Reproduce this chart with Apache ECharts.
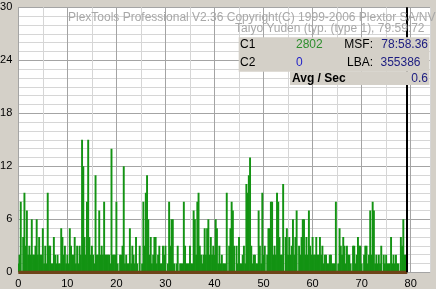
<!DOCTYPE html>
<html><head><meta charset="utf-8">
<script src="https://cdn.jsdelivr.net/npm/echarts@6/dist/echarts.min.js"></script>
<style>html,body{margin:0;padding:0;background:#d4d0c8;overflow:hidden}#c{width:436px;height:289px}</style>
</head><body><div id="c"></div>
<script>
// C1 errors per sample, one sample every 0.25 minute, starting at 0:00
const sampleStep = 0.25;
const c1 = [
 1,2,8,0, 4,9,3,7, 2,3,2,6, 2,2,3,6, 2,4,2,2, 5,1,3,1, 9,3,3,1, 1,4,2,1, 2,1,1,5, 4,2,3,1,
 2,1,5,3, 2,2,4,1, 3,1,3,2, 15,12,4,2, 8,15,4,2, 3,2,1,11, 2,2,7,2, 3,2,8,2, 2,2,2,1, 14,2,2,2,
 8,1,0,2, 2,3,12,1, 2,1,1,5, 1,3,2,1, 4,1,0,3, 0,1,8,3, 9,11,6,2, 4,1,2,4, 4,1,2,3, 1,1,3,2,
 3,0,1,8, 3,6,6,1, 0,1,3,0, 1,1,1,8, 3,1,1,1, 3,1,1,7, 6,2,8,9, 3,2,1,2, 5,2,5,6, 2,4,2,3,
 2,6,5,1, 3,1,2,1, 1,1,9,0, 3,5,8,7, 3,0,3,1, 4,1,1,2, 3,1,10,9, 11,13,3,1, 2,2,1,1, 7,3,1,9,
 2,3,0,2, 5,5,8,8, 2,3,2,9, 8,4,2,2, 10,0,4,5, 2,4,2,3, 6,2,4,7, 0,3,2,4, 6,6,2,4, 2,7,3,2,
 4,2,2,4, 2,2,4,2, 3,1,2,2, 1,1,2,2, 1,1,1,8, 0,1,5,3, 2,4,3,1, 3,2,2,1, 0,3,3,1, 2,4,3,3,
 1,0,2,3, 3,1,2,7, 2,8,7,1, 2,1,2,1, 3,0,2,1, 2,1,1,1, 4,1,2,1, 2,1,1,0, 4,3,6,2, 2,2
];
// C2 errors: zero over the whole disc
const c2Minutes = [0, 79.3];
const c2Values = [0, 0];
const scanEnd = 79.3;           // position of the black end-of-scan marker (minutes)
const xTickLabels = [0,10,20,30,40,50,60,70,80];
const yTickLabels = [0,6,12,18,24,30];

const c1Data = c1.map((v, i) => [i * sampleStep, v]);
const c2Data = c2Values.map((v, i) => [c2Minutes[i], v]);

const MAJ = '#a4a4a4', MIN = '#d6d6d6';
const chart = echarts.init(document.getElementById('c'), null, {renderer: 'canvas'});
const lblFont = {color: '#000', fontFamily: 'Liberation Sans, Arial, sans-serif', fontSize: 11};
const F = '12px Liberation Sans, Arial, sans-serif';
chart.setOption({
  animation: false,
  backgroundColor: '#d4d0c8',
  grid: {left: 18.3, right: 5.7, top: 7.3, bottom: 16.7, backgroundColor: '#ffffff', show: true, borderWidth: 0, containLabel: false, outerBoundsMode: 'none'},
  xAxis: {
    type: 'value', min: 0, max: 84, interval: 5,
    axisLine: {show: false}, axisTick: {show: false},
    splitLine: {show: true, lineStyle: {color: [MAJ, MIN], width: 1}},
    axisLabel: Object.assign({margin: 6, formatter: v => xTickLabels.includes(v) ? String(v) : ''}, lblFont)
  },
  yAxis: {
    type: 'value', min: 0, max: 30, interval: 1,
    axisLine: {show: false}, axisTick: {show: false},
    splitLine: {show: true, lineStyle: {color: [MAJ, MIN, MIN, MIN, MIN, MIN], width: 1}},
    axisLabel: Object.assign({margin: 6, formatter: v => yTickLabels.includes(v) ? String(v) : ''}, lblFont)
  },
  series: [
    {
      type: 'custom', data: c1Data, clip: true,
      encode: {x: 0, y: 1},
      renderItem: function (params, api) {
        const x = api.value(0), v = api.value(1);
        if (!v) return null;
        const p0 = api.coord([x - sampleStep / 2, v]);
        const p1 = api.coord([x + sampleStep / 2, 0]);
        return {
          type: 'rect',
          shape: {x: p0[0] - 0.35, y: p0[1], width: p1[0] - p0[0] + 0.7, height: p1[1] - p0[1]},
          style: {fill: '#139313'}
        };
      },
      markLine: {silent: true, symbol: 'none', label: {show: false},
        lineStyle: {color: '#000', width: 2, type: 'solid'}, data: [{xAxis: scanEnd}]}
    },
    {
      type: 'line', data: c2Data, symbol: 'none', lineStyle: {color: '#6e4418', width: 3.2}, z: 3
    }
  ],
  graphic: [
    {type: 'text', z: 100, style: {x: 68, y: 17.5, text: 'PlexTools Professional V2.36 Copyright(C) 1999-2006 Plextor SA/NV', fill: '#a8a8a8', font: F, textVerticalAlign: 'middle'}},
    {type: 'text', z: 100, style: {x: 424.5, y: 28.8, text: 'Taiyo Yuden (typ. (type 1), 79:59:72', fill: '#a8a8a8', font: F, textAlign: 'right', textVerticalAlign: 'middle'}},
    {type: 'rect', z: 100, shape: {x: 238.7, y: 37.3, width: 190.8, height: 34.4}, style: {fill: '#d4d0c8'}},
    {type: 'rect', z: 100, shape: {x: 290, y: 71.5, width: 139.5, height: 13.5}, style: {fill: '#d4d0c8'}},
    {type: 'text', z: 101, style: {x: 240, y: 44.5, text: 'C1', fill: '#000', font: F, textVerticalAlign: 'middle'}},
    {type: 'text', z: 101, style: {x: 296, y: 44.5, text: '2802', fill: '#2e8e2e', font: F, textVerticalAlign: 'middle'}},
    {type: 'text', z: 101, style: {x: 373, y: 44.5, text: 'MSF:', fill: '#000', font: F, textAlign: 'right', textVerticalAlign: 'middle'}},
    {type: 'text', z: 101, style: {x: 428, y: 44.5, text: '78:58.36', fill: '#1c1c80', font: F, textAlign: 'right', textVerticalAlign: 'middle'}},
    {type: 'text', z: 101, style: {x: 240, y: 62.7, text: 'C2', fill: '#000', font: F, textVerticalAlign: 'middle'}},
    {type: 'text', z: 101, style: {x: 296, y: 62.7, text: '0', fill: '#2424c8', font: F, textVerticalAlign: 'middle'}},
    {type: 'text', z: 101, style: {x: 373, y: 62.7, text: 'LBA:', fill: '#000', font: F, textAlign: 'right', textVerticalAlign: 'middle'}},
    {type: 'text', z: 101, style: {x: 420.5, y: 62.7, text: '355386', fill: '#1c1c80', font: F, textAlign: 'right', textVerticalAlign: 'middle'}},
    {type: 'text', z: 101, style: {x: 292, y: 79, text: 'Avg / Sec', fill: '#000', font: 'bold ' + F, textVerticalAlign: 'middle'}},
    {type: 'text', z: 101, style: {x: 428, y: 79, text: '0.6', fill: '#1c1c80', font: F, textAlign: 'right', textVerticalAlign: 'middle'}}
  ]
});
</script></body></html>
